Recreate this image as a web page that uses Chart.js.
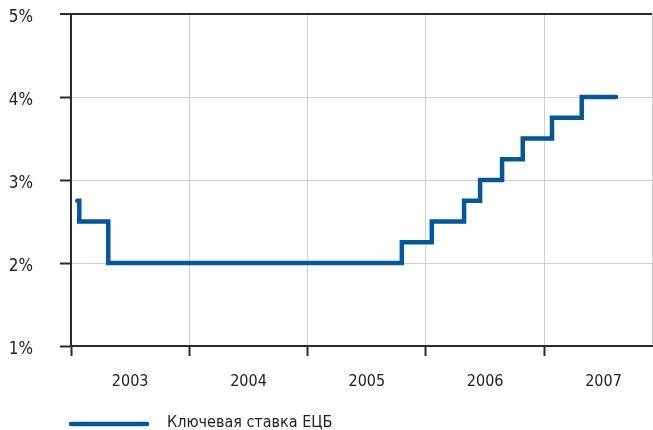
<!DOCTYPE html>
<html>
<head>
<meta charset="utf-8">
<script src="https://cdn.jsdelivr.net/npm/chart.js@4/dist/chart.umd.min.js"></script>
<style>
  html, body { margin: 0; padding: 0; background: #ffffff; }
  #wrap { width: 653px; height: 430px; position: relative; }
</style>
</head>
<body>
<div id="wrap"><canvas id="c" width="653" height="430"></canvas></div>
<script>
// ECB main refinancing rate, % (decimal year of each change, rate after it)
const seriesLabel = 'Ключевая ставка ЕЦБ';
const changeDates = [2003.053, 2003.070, 2003.315, 2005.796, 2006.049, 2006.322, 2006.457, 2006.643, 2006.818, 2007.065, 2007.316, 2007.606];
const rates       = [2.75,     2.50,     2.00,     2.25,     2.50,     2.75,     3.00,     3.25,     3.50,     3.75,     4.00,     4.00];
const yearTicks = [2003, 2004, 2005, 2006, 2007];
const yTicks = [1, 2, 3, 4, 5];

const FONT = "'Liberation Sans Narrow', 'DejaVu Sans Condensed', 'Liberation Sans', sans-serif";
const LINE = '#055799';
const AXIS = '#2b2b2b';
const GRID = '#cfcfcf';
const X_MIN = 2003, X_MAX = 2007.91;

const points = changeDates.map((d, i) => ({ x: d, y: rates[i] }));

// bottom legend: a thick line sample and the series name
const legendPlugin = {
  id: 'bottomLegend',
  afterDraw(chart) {
    const ctx = chart.ctx;
    const ds = chart.data.datasets[0];
    ctx.save();
    ctx.strokeStyle = ds.borderColor;
    ctx.lineWidth = 4.5;
    ctx.lineCap = 'round';
    ctx.beginPath();
    ctx.moveTo(71, 424);
    ctx.lineTo(147, 424);
    ctx.stroke();
    ctx.fillStyle = '#222';
    ctx.font = "16px " + FONT;
    ctx.textBaseline = 'middle';
    ctx.textAlign = 'left';
    ctx.fillText(ds.label, 167, 423);
    ctx.restore();
  }
};

new Chart(document.getElementById('c'), {
  type: 'line',
  data: {
    datasets: [{
      label: seriesLabel,
      data: points,
      borderColor: LINE,
      borderWidth: 4.5,
      stepped: true,
      pointRadius: 0,
      borderCapStyle: 'round',
      borderJoinStyle: 'miter',
      fill: false
    }]
  },
  options: {
    responsive: false,
    animation: false,
    layout: { padding: { top: 14, right: 1, left: 0, bottom: 0 } },
    plugins: { legend: { display: false }, tooltip: { enabled: false } },
    scales: {
      x: {
        type: 'linear',
        min: X_MIN,
        max: X_MAX,
        afterBuildTicks(scale) {
          const t = [];
          yearTicks.forEach(y => { t.push({ value: y }); t.push({ value: y + 0.5 }); });
          t.push({ value: X_MAX });
          scale.ticks = t;
        },
        afterFit(scale) {
          scale.height = 84;
          scale.paddingLeft = 0;
          scale.paddingRight = 0;
        },
        border: { display: true, color: AXIS, width: 2 },
        grid: {
          color: ctx => (ctx.tick && Number.isInteger(ctx.tick.value)) || (ctx.tick && ctx.tick.value === X_MAX) ? GRID : 'rgba(0,0,0,0)',
          tickColor: ctx => ctx.tick && Number.isInteger(ctx.tick.value) ? AXIS : 'rgba(0,0,0,0)',
          lineWidth: 1,
          tickWidth: 2,
          tickLength: 10
        },
        ticks: {
          autoSkip: false,
          maxRotation: 0,
          padding: 16,
          color: '#222',
          font: { family: FONT, size: 16 },
          callback: v => Number.isInteger(v) || v === X_MAX ? '' : String(Math.floor(v))
        }
      },
      y: {
        min: 1,
        max: 5,
        afterBuildTicks(scale) { scale.ticks = yTicks.map(v => ({ value: v })); },
        afterFit(scale) {
          scale.width = 71;
          scale.paddingTop = 0;
          scale.paddingBottom = 0;
        },
        border: { display: true, color: AXIS, width: 2 },
        grid: {
          color: ctx => ctx.tick && ctx.tick.value === 5 ? AXIS : GRID,
          lineWidth: ctx => ctx.tick && ctx.tick.value === 5 ? 2 : 1,
          tickColor: AXIS,
          tickWidth: 2,
          tickLength: 11
        },
        ticks: {
          padding: 27,
          labelOffset: 4,
          color: '#222',
          font: { family: FONT, size: 17 },
          callback: v => v + '%'
        }
      }
    }
  },
  plugins: [legendPlugin]
});
</script>
</body>
</html>
